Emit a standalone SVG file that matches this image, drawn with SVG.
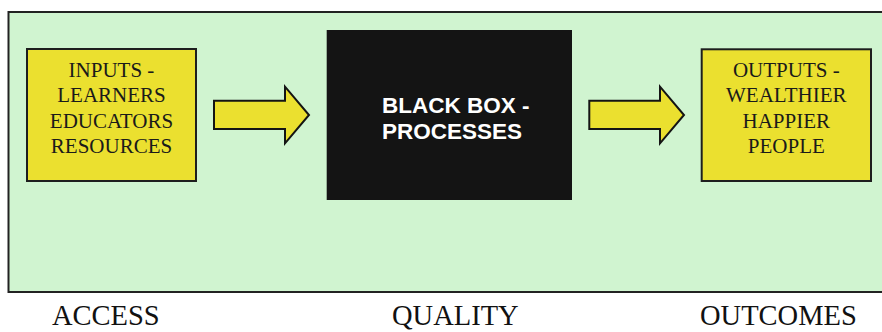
<svg xmlns="http://www.w3.org/2000/svg" width="882" height="332" viewBox="0 0 882 332">
<style>
.bg{fill:#d0f4d0;stroke:#222;stroke-width:2}
.yb{fill:#ebe02f;stroke:#1e1e1e;stroke-width:2}
.arr{fill:#ebe02f;stroke:#141414;stroke-width:2;stroke-linejoin:miter}
.t{font-family:"Liberation Serif","Times New Roman",serif;font-size:21px;fill:#1a1a1a;text-anchor:middle}
.w{font-family:"Liberation Sans",Arial,sans-serif;font-size:22.5px;font-weight:bold;fill:#ffffff}
.lab{font-family:"Liberation Serif","Times New Roman",serif;font-size:28.5px;fill:#111}
</style>
<rect x="0" y="0" width="882" height="332" fill="#ffffff"/>
<rect class="bg" x="8.5" y="12" width="890" height="280"/>
<g id="inputs">
<rect class="yb" x="27" y="49" width="169" height="132"/>
<text class="t" x="111.5" y="77">INPUTS -</text>
<text class="t" x="111.5" y="102">LEARNERS</text>
<text class="t" x="111.5" y="127.5">EDUCATORS</text>
<text class="t" x="111.5" y="153">RESOURCES</text>
</g>
<g id="blackbox">
<rect x="326.7" y="30" width="245.3" height="170" fill="#141414"/>
<text class="w" x="382" y="112.7">BLACK BOX -</text>
<text class="w" x="382" y="139.3">PROCESSES</text>
</g>
<g id="outputs">
<rect class="yb" x="701.7" y="49.3" width="169.3" height="131.7"/>
<text class="t" x="786.3" y="77">OUTPUTS -</text>
<text class="t" x="786.3" y="102">WEALTHIER</text>
<text class="t" x="786.3" y="128">HAPPIER</text>
<text class="t" x="786.3" y="153.3">PEOPLE</text>
</g>
<g id="connectors">
<polygon class="arr" points="214,100.7 285,100.7 285,86.7 309,115 285,143.3 285,129 214,129"/>
<polygon class="arr" points="589.3,100.7 660,100.7 660,86.7 684,115 660,143.3 660,129 589.3,129"/>
</g>
<g id="labels">
<text class="lab" x="52" y="325">ACCESS</text>
<text class="lab" x="392" y="325">QUALITY</text>
<text class="lab" x="700" y="325">OUTCOMES</text>
</g>
</svg>
